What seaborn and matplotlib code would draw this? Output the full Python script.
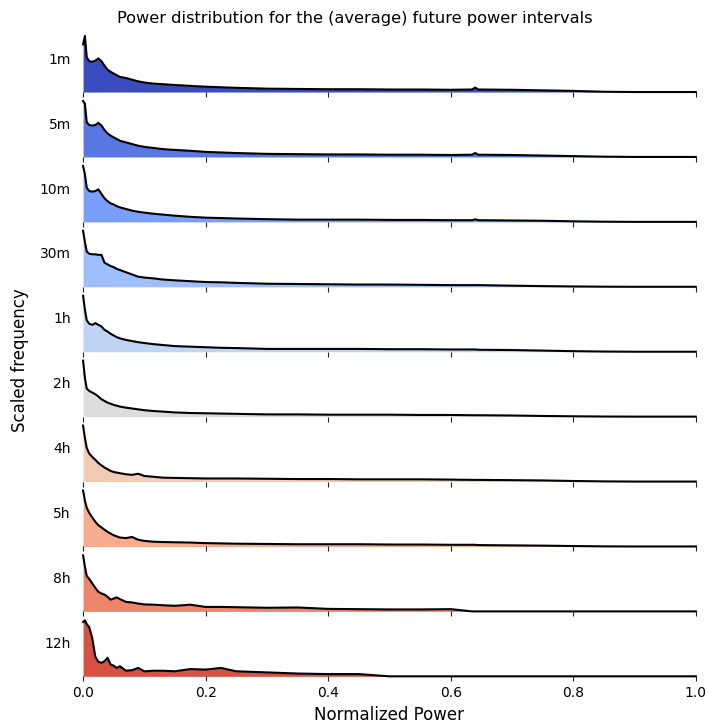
import numpy as np
import pandas as pd
import matplotlib
matplotlib.use("Agg")
import matplotlib.pyplot as plt
import seaborn as sns

intervals = ["1m", "5m", "10m", "30m", "1h", "2h", "4h", "5h", "8h", "12h"]

power = [0.000, 0.003, 0.006, 0.010, 0.015, 0.020, 0.025, 0.030, 0.035, 0.040,
         0.045, 0.050, 0.055, 0.060, 0.070, 0.080, 0.090, 0.100, 0.115, 0.130,
         0.150, 0.175, 0.200, 0.225, 0.250, 0.300, 0.350, 0.400, 0.450, 0.500,
         0.550, 0.600, 0.635, 0.640, 0.645, 0.700, 0.750, 0.800, 0.850, 0.900, 1.000]

freq_1m = [0.85, 1.00, 0.62, 0.55, 0.54, 0.56, 0.60, 0.55, 0.47, 0.40,
           0.36, 0.33, 0.30, 0.27, 0.25, 0.22, 0.19, 0.17, 0.15, 0.14,
           0.125, 0.11, 0.095, 0.085, 0.075, 0.06, 0.055, 0.05, 0.05, 0.045,
           0.045, 0.04, 0.045, 0.08, 0.045, 0.04, 0.03, 0.02, 0.005, 0.0, 0.0]
freq_5m = [1.00, 0.95, 0.62, 0.57, 0.56, 0.57, 0.61, 0.56, 0.48, 0.42,
           0.38, 0.35, 0.32, 0.29, 0.26, 0.23, 0.20, 0.18, 0.16, 0.14,
           0.125, 0.11, 0.09, 0.08, 0.07, 0.055, 0.05, 0.045, 0.045, 0.04,
           0.04, 0.035, 0.04, 0.07, 0.04, 0.035, 0.025, 0.015, 0.005, 0.0, 0.0]
freq_10m = [1.00, 0.85, 0.61, 0.55, 0.54, 0.55, 0.58, 0.50, 0.42, 0.37,
            0.33, 0.31, 0.28, 0.26, 0.23, 0.20, 0.18, 0.165, 0.145, 0.13,
            0.11, 0.09, 0.075, 0.068, 0.06, 0.048, 0.04, 0.04, 0.04, 0.035,
            0.035, 0.03, 0.03, 0.045, 0.03, 0.025, 0.02, 0.01, 0.003, 0.0, 0.0]
freq_30m = [1.00, 0.80, 0.63, 0.59, 0.58, 0.58, 0.57, 0.57, 0.43, 0.40,
            0.37, 0.35, 0.32, 0.30, 0.26, 0.22, 0.18, 0.165, 0.15, 0.13,
            0.115, 0.10, 0.085, 0.08, 0.07, 0.055, 0.05, 0.045, 0.04, 0.04,
            0.035, 0.03, 0.03, 0.03, 0.03, 0.02, 0.012, 0.006, 0.002, 0.0, 0.0]
freq_1h = [1.00, 0.75, 0.56, 0.50, 0.48, 0.51, 0.48, 0.45, 0.39, 0.36,
           0.32, 0.29, 0.26, 0.24, 0.21, 0.19, 0.17, 0.155, 0.135, 0.12,
           0.10, 0.09, 0.08, 0.07, 0.065, 0.05, 0.05, 0.05, 0.05, 0.045,
           0.045, 0.04, 0.04, 0.04, 0.035, 0.03, 0.02, 0.01, 0.003, 0.0, 0.0]
freq_2h = [1.00, 0.69, 0.50, 0.46, 0.43, 0.40, 0.36, 0.31, 0.28, 0.25,
           0.23, 0.21, 0.195, 0.18, 0.16, 0.145, 0.13, 0.115, 0.10, 0.09,
           0.075, 0.065, 0.06, 0.055, 0.05, 0.04, 0.04, 0.035, 0.035, 0.035,
           0.03, 0.03, 0.025, 0.025, 0.025, 0.02, 0.012, 0.006, 0.002, 0.0, 0.0]
freq_4h = [1.00, 0.78, 0.60, 0.50, 0.44, 0.39, 0.33, 0.29, 0.25, 0.22,
           0.19, 0.17, 0.16, 0.15, 0.13, 0.12, 0.14, 0.10, 0.085, 0.07,
           0.065, 0.06, 0.055, 0.055, 0.055, 0.05, 0.045, 0.045, 0.04, 0.04,
           0.04, 0.035, 0.03, 0.03, 0.03, 0.025, 0.02, 0.01, 0.003, 0.0, 0.0]
freq_5h = [1.00, 0.82, 0.69, 0.60, 0.52, 0.44, 0.38, 0.34, 0.30, 0.26,
           0.23, 0.20, 0.18, 0.16, 0.15, 0.17, 0.12, 0.10, 0.085, 0.08,
           0.075, 0.07, 0.06, 0.055, 0.05, 0.045, 0.04, 0.04, 0.04, 0.035,
           0.035, 0.03, 0.03, 0.03, 0.025, 0.02, 0.015, 0.008, 0.002, 0.0, 0.0]
freq_8h = [1.00, 0.80, 0.63, 0.58, 0.50, 0.42, 0.35, 0.32, 0.30, 0.26,
           0.21, 0.23, 0.25, 0.22, 0.17, 0.16, 0.14, 0.125, 0.12, 0.11,
           0.10, 0.12, 0.08, 0.08, 0.075, 0.065, 0.07, 0.045, 0.04, 0.035,
           0.035, 0.04, 0.0, 0.0, 0.0, 0.0, 0.0, 0.0, 0.0, 0.0, 0.0]
freq_12h = [0.97, 1.00, 0.93, 0.88, 0.68, 0.35, 0.26, 0.24, 0.27, 0.33,
            0.21, 0.19, 0.15, 0.18, 0.10, 0.11, 0.15, 0.09, 0.10, 0.10,
            0.09, 0.13, 0.12, 0.15, 0.09, 0.07, 0.05, 0.04, 0.04, 0.0,
            0.0, 0.0, 0.0, 0.0, 0.0, 0.0, 0.0, 0.0, 0.0, 0.0, 0.0]

series = [freq_1m, freq_5m, freq_10m, freq_30m, freq_1h,
          freq_2h, freq_4h, freq_5h, freq_8h, freq_12h]

rows = []
for name, vals in zip(intervals, series):
    for p, f in zip(power, vals):
        rows.append({"interval": name, "power": p, "freq": f})
df = pd.DataFrame(rows)

cmap = sns.color_palette("coolwarm", as_cmap=True)
palette = [cmap(k / len(intervals)) for k in range(len(intervals))]

g = sns.FacetGrid(df, row="interval", hue="interval", palette=palette,
                  row_order=intervals, hue_order=intervals,
                  height=0.6, aspect=10, sharex=True, sharey=True)


def ridge(x, y, color=None, label=None, **kws):
    ax = plt.gca()
    ax.fill_between(x.values, y.values, color=color, lw=0, zorder=1)
    sns.lineplot(x=x.values, y=y.values, color="black", lw=1.5,
                 ax=ax, clip_on=False, zorder=3)


g.map(ridge, "power", "freq")

g.figure.set_size_inches(7.1, 7.27)
g.figure.subplots_adjust(left=0.117, right=0.980, bottom=0.0697,
                         top=0.9543, hspace=0.104)
g.set_titles("")
g.set(xlim=(0, 1), ylim=(0, 1.05), yticks=[], ylabel="", xlabel="")

for ax, name in zip(g.axes.flat, intervals):
    for s in ax.spines.values():
        s.set_visible(False)
    ax.set_xticks([0, 0.2, 0.4, 0.6, 0.8, 1.0])
    ax.tick_params(axis="x", length=3.5, width=0.8, color="#222222",
                   labelsize=10, bottom=True)
    ax.text(-0.02, 0.55, name, transform=ax.transAxes, ha="right",
            va="center", fontsize=10)

last = g.axes.flat[-1]
last.set_xticklabels(["0.0", "0.2", "0.4", "0.6", "0.8", "1.0"])
last.set_xlabel("Normalized Power", fontsize=12)

g.figure.text(0.5, 0.975, "Power distribution for the (average) future power intervals",
              ha="center", va="center", fontsize=11.7)
g.figure.text(0.028, 0.505, "Scaled frequency", rotation=90,
              ha="center", va="center", fontsize=12)

g.figure.savefig("out.png", dpi=100)
